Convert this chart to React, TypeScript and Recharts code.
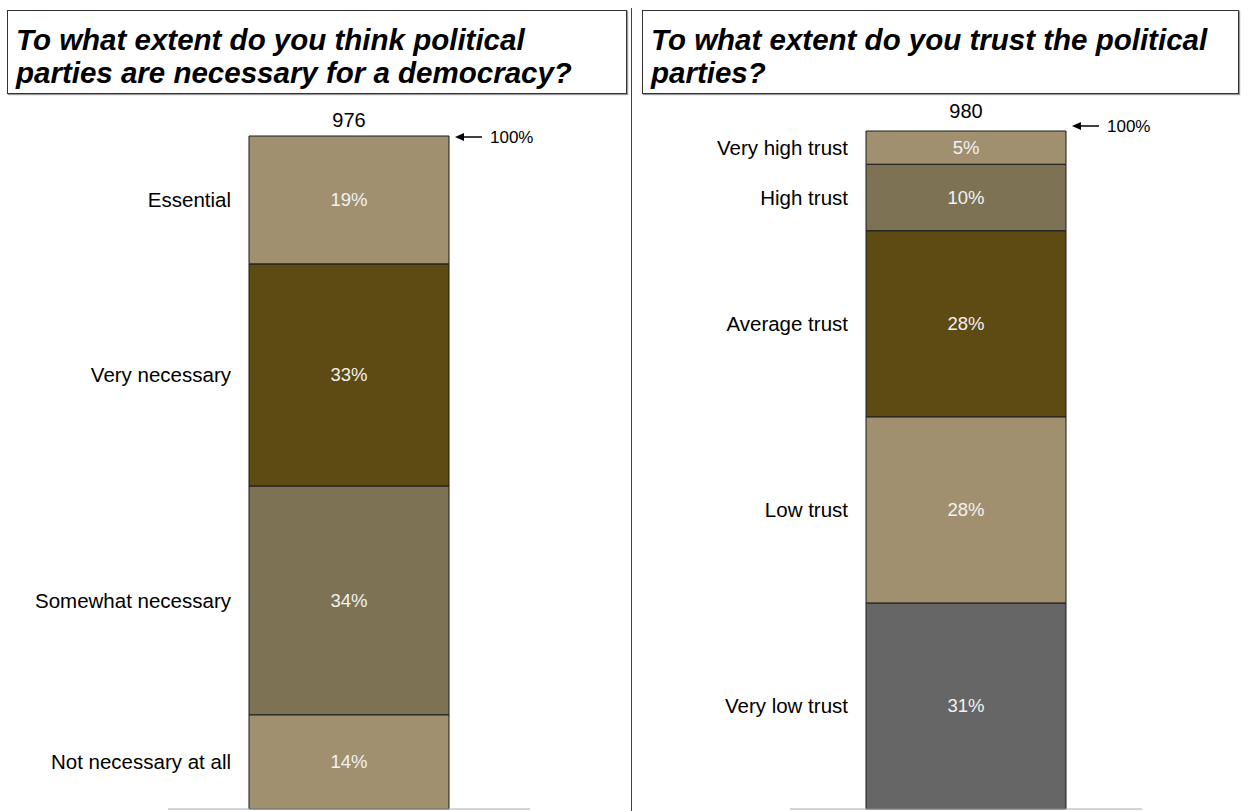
import { BarChart, Bar, XAxis, YAxis, LabelList } from "recharts"

const leftCategories = ["Essential", "Very necessary", "Somewhat necessary", "Not necessary at all"]
const leftValues = [19, 33, 34, 14]
const leftColors = ["#A0906F", "#5E4A13", "#7D7254", "#A0906F"]
const leftCount = "976"

const rightCategories = ["Very high trust", "High trust", "Average trust", "Low trust", "Very low trust"]
const rightValues = [5, 10, 28, 28, 31]
const rightColors = ["#A0906F", "#7D7254", "#5E4A13", "#A0906F", "#666666"]
const rightCount = "980"

const FONT = '"Liberation Sans", Arial, sans-serif'

interface PanelProps {
    categories: string[]
    values: number[]
    colors: string[]
    count: string
    left: number
    width: number
    marginLeft: number
    marginRight: number
    marginTop: number
    countDy: number
    arrowDy: number
}

const Panel = ({ categories, values, colors, count, left, width, marginLeft, marginRight, marginTop, countDy, arrowDy }: PanelProps) => {
    const row: Record<string, number | string> = { name: "all" }
    values.forEach((v, i) => (row[`s${i}`] = v))
    const total = values.reduce((a, b) => a + b, 0)
    // first Bar sits at the bottom of the stack
    const order = categories.map((_, i) => i).reverse()

    const renderLabel = (i: number) => (p: any) => {
        const x = Number(p.x), y = Number(p.y), w = Number(p.width), h = Number(p.height)
        const cy = y + h / 2
        return (
            <g>
                <text x={x - 18} y={cy} textAnchor="end" dominantBaseline="central" fontSize={20.5} fill="#000" fontFamily={FONT}>
                    {categories[i]}
                </text>
                <text x={x + w / 2} y={cy} textAnchor="middle" dominantBaseline="central" fontSize={18.5} fill="#F2F2F2" fontFamily={FONT}>
                    {p.value}%
                </text>
                {i === 0 && (
                    <g>
                        <text x={x + w / 2} y={y - countDy} textAnchor="middle" dominantBaseline="central" fontSize={20} fill="#000" fontFamily={FONT}>
                            {count}
                        </text>
                        <line x1={x + w + 12} y1={y + arrowDy} x2={x + w + 33} y2={y + arrowDy} stroke="#000" strokeWidth={1.5} />
                        <path d={`M${x + w + 6},${y + arrowDy} l9,-4 l0,8 z`} fill="#000" />
                        <text x={x + w + 41} y={y + arrowDy} dominantBaseline="central" fontSize={17} fill="#000" fontFamily={FONT}>
                            100%
                        </text>
                    </g>
                )}
            </g>
        )
    }

    return (
        <div style={{ position: "absolute", left, top: 100 }}>
            <BarChart
                width={width}
                height={711}
                data={[row]}
                margin={{ top: marginTop, right: marginRight, bottom: 1, left: marginLeft }}
                barSize={200}
            >
                <XAxis dataKey="name" tick={false} tickLine={false} height={1} axisLine={{ stroke: "#AAAAAA" }} />
                <YAxis hide domain={[0, total]} />
                {order.map((i) => (
                    <Bar
                        key={i}
                        dataKey={`s${i}`}
                        stackId="a"
                        fill={colors[i]}
                        stroke="#1A1A1A"
                        strokeWidth={1}
                        isAnimationActive={false}
                    >
                        <LabelList dataKey={`s${i}`} content={renderLabel(i)} />
                    </Bar>
                ))}
            </BarChart>
        </div>
    )
}

const titleStyle = {
    position: "absolute" as const,
    top: 10,
    height: 84,
    border: "1px solid #333",
    boxShadow: "1px 1px 1px #999",
    boxSizing: "border-box" as const,
    padding: "12px 0 0 8px",
    fontFamily: FONT,
    fontWeight: "bold" as const,
    fontStyle: "italic" as const,
    fontSize: 29.5,
    lineHeight: "33px",
    color: "#000",
    background: "#fff",
    whiteSpace: "nowrap" as const,
}

const App = () => {
    return (
        <div style={{ position: "absolute", left: 0, top: 0, width: 1249, height: 811, background: "#fff", overflow: "hidden", fontFamily: FONT }}>
            <div style={{ ...titleStyle, left: 7, width: 620 }}>
                To what extent do you think political
                <br />
                parties are necessary for a democracy?
            </div>
            <div style={{ position: "absolute", left: 631, top: 8, width: 1, height: 803, background: "#444" }} />
            <div style={{ ...titleStyle, left: 642, width: 597 }}>
                To what extent do you trust the political
                <br />
                parties?
            </div>
            <Panel
                categories={leftCategories}
                values={leftValues}
                colors={leftColors}
                count={leftCount}
                left={0}
                width={640}
                marginLeft={168}
                marginRight={110}
                marginTop={36}
                countDy={16}
                arrowDy={1}
            />
            <Panel
                categories={rightCategories}
                values={rightValues}
                colors={rightColors}
                count={rightCount}
                left={640}
                width={609}
                marginLeft={150}
                marginRight={107}
                marginTop={31}
                countDy={20}
                arrowDy={-5}
            />
        </div>
    )
}

export default App
